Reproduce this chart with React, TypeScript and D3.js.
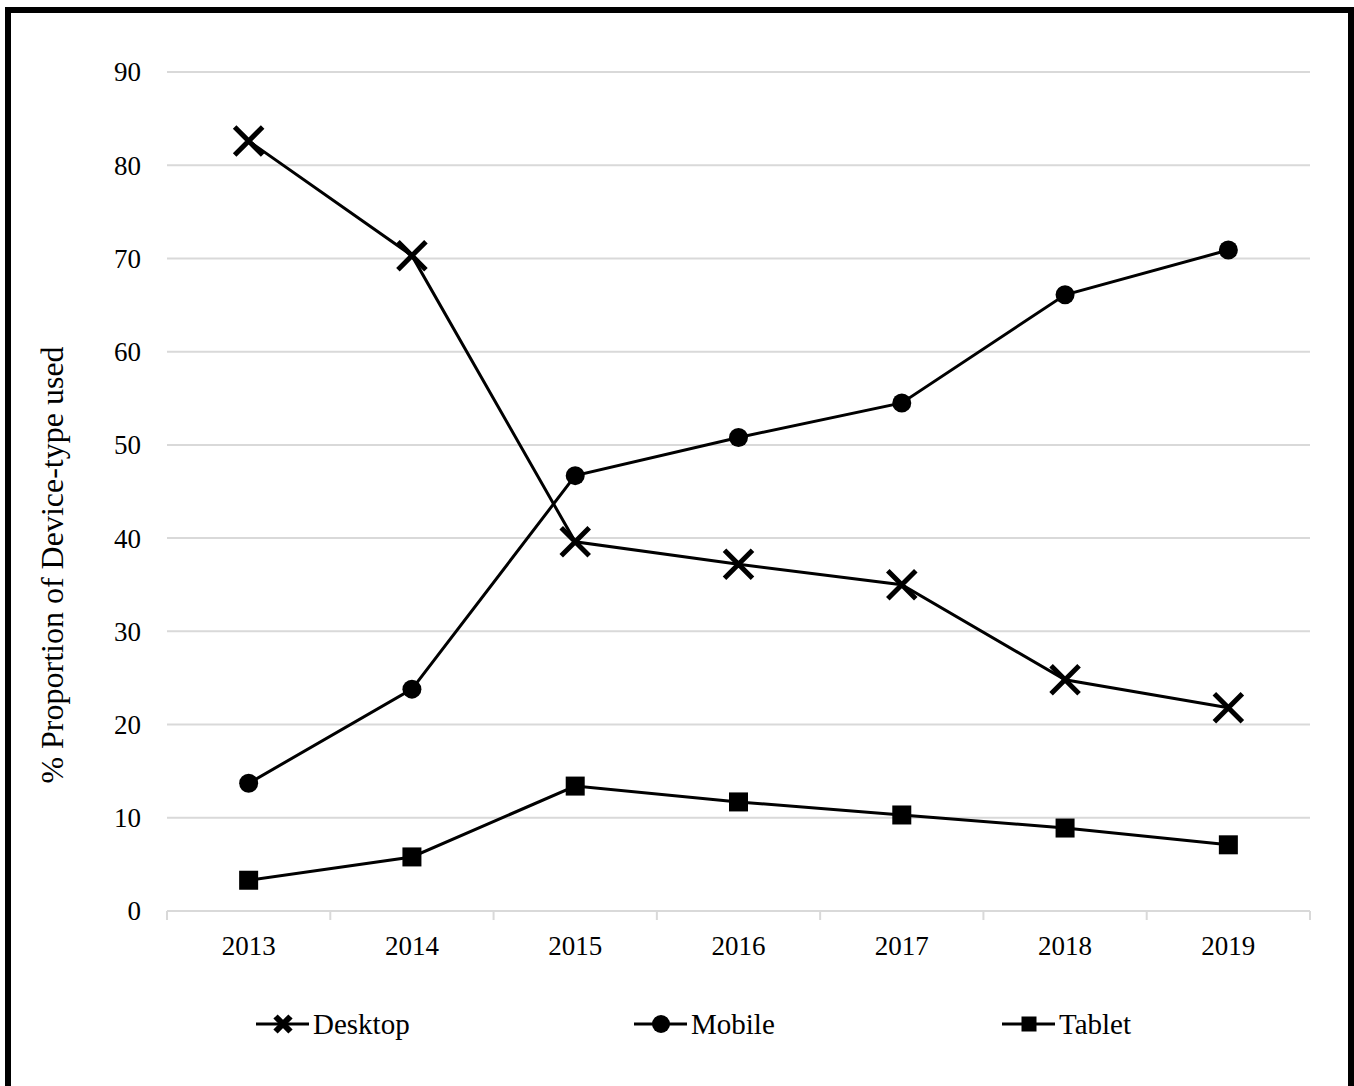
import React, { useEffect, useRef } from "react";
import * as d3 from "d3";

const years = ["2013", "2014", "2015", "2016", "2017", "2018", "2019"];
const desktop = [82.6, 70.3, 39.6, 37.2, 35.0, 24.8, 21.8];
const mobile = [13.7, 23.8, 46.7, 50.8, 54.5, 66.1, 70.9];
const tablet = [3.3, 5.8, 13.4, 11.7, 10.3, 8.9, 7.1];
const yTicks = [0, 10, 20, 30, 40, 50, 60, 70, 80, 90];

const seriesList = [
  { name: "Desktop", values: desktop, marker: "x" },
  { name: "Mobile", values: mobile, marker: "circle" },
  { name: "Tablet", values: tablet, marker: "square" },
];

const App = () => {
  const ref = useRef<SVGSVGElement>(null);

  useEffect(() => {
    const width = 1354;
    const height = 1086;
    const font = "'Liberation Serif', 'Times New Roman', serif";
    const left = 167, right = 1310, top = 72, bottom = 911;

    const svg = d3.select(ref.current);
    svg.selectAll("*").remove();
    svg.attr("width", width).attr("height", height);

    svg.append("rect").attr("width", width).attr("height", height).attr("fill", "white");
    // outer frame (bottom edge is cut off in the original)
    svg.append("rect")
      .attr("x", 8).attr("y", 10)
      .attr("width", 1343).attr("height", 1120)
      .attr("fill", "none").attr("stroke", "black").attr("stroke-width", 6);

    const x = d3.scaleBand().domain(years).range([left, right]);
    const y = d3.scaleLinear().domain([0, 90]).range([bottom, top]);

    // gridlines
    svg.append("g")
      .selectAll("line")
      .data(yTicks.filter((t) => t > 0))
      .enter()
      .append("line")
      .attr("x1", left).attr("x2", right)
      .attr("y1", (d) => y(d)).attr("y2", (d) => y(d))
      .attr("stroke", "#d9d9d9").attr("stroke-width", 2);

    // y tick labels
    svg.append("g")
      .selectAll("text")
      .data(yTicks)
      .enter()
      .append("text")
      .attr("x", 141).attr("y", (d) => y(d))
      .attr("dy", "0.35em")
      .attr("text-anchor", "end")
      .style("font-family", font).style("font-size", "27px")
      .text((d) => d);

    // x axis
    const xAxis = svg.append("g");
    xAxis.append("line")
      .attr("x1", left).attr("x2", right)
      .attr("y1", bottom).attr("y2", bottom)
      .attr("stroke", "#d9d9d9").attr("stroke-width", 2);
    const bounds = years.map((yr) => x(yr)!).concat([right]);
    xAxis.selectAll("line.tick")
      .data(bounds)
      .enter()
      .append("line")
      .attr("class", "tick")
      .attr("x1", (d) => d).attr("x2", (d) => d)
      .attr("y1", bottom).attr("y2", bottom + 9)
      .attr("stroke", "#d9d9d9").attr("stroke-width", 2);
    xAxis.selectAll("text")
      .data(years)
      .enter()
      .append("text")
      .attr("x", (d) => x(d)! + x.bandwidth() / 2)
      .attr("y", 955)
      .attr("text-anchor", "middle")
      .style("font-family", font).style("font-size", "27px")
      .text((d) => d);

    // y axis title
    svg.append("text")
      .attr("transform", `translate(63,565) rotate(-90)`)
      .attr("text-anchor", "middle")
      .style("font-family", font).style("font-size", "32px")
      .text("% Proportion of Device-type used");

    // size = half-width of the marker
    const drawMarker = (g, type, cx, cy, size, sw) => {
      if (type === "x") {
        const s = size;
        g.append("path")
          .attr("d", `M${cx - s},${cy - s}L${cx + s},${cy + s}M${cx - s},${cy + s}L${cx + s},${cy - s}`)
          .attr("stroke", "black").attr("stroke-width", sw)
          .attr("fill", "none");
      } else if (type === "circle") {
        g.append("circle").attr("cx", cx).attr("cy", cy).attr("r", size).attr("fill", "black");
      } else {
        g.append("rect").attr("x", cx - size).attr("y", cy - size)
          .attr("width", 2 * size).attr("height", 2 * size).attr("fill", "black");
      }
    };
    const plotSize = { x: 14, circle: 9.5, square: 9.5 };
    const legendSize = { x: 7.5, circle: 9, square: 7.5 };

    const line = d3.line<number>()
      .x((d, i) => x(years[i])! + x.bandwidth() / 2)
      .y((d) => y(d));

    seriesList.forEach((s) => {
      const g = svg.append("g");
      g.append("path")
        .attr("d", line(s.values))
        .attr("fill", "none").attr("stroke", "black").attr("stroke-width", 3);
      s.values.forEach((v, i) => {
        drawMarker(g, s.marker, x(years[i])! + x.bandwidth() / 2, y(v), plotSize[s.marker], 5);
      });
    });

    // legend
    const legendX = [256, 634, 1002];
    seriesList.forEach((s, i) => {
      const g = svg.append("g");
      const lx = legendX[i];
      const ly = 1024;
      g.append("line")
        .attr("x1", lx).attr("x2", lx + 53)
        .attr("y1", ly).attr("y2", ly)
        .attr("stroke", "black").attr("stroke-width", 3);
      drawMarker(g, s.marker, lx + 27, ly, legendSize[s.marker], 6);
      g.append("text")
        .attr("x", lx + 57).attr("y", ly + 10)
        .style("font-family", font).style("font-size", "29px")
        .text(s.name);
    });
  }, []);

  return <svg ref={ref} style={{ position: "absolute", left: 0, top: 0 }}></svg>;
};

export default App;
